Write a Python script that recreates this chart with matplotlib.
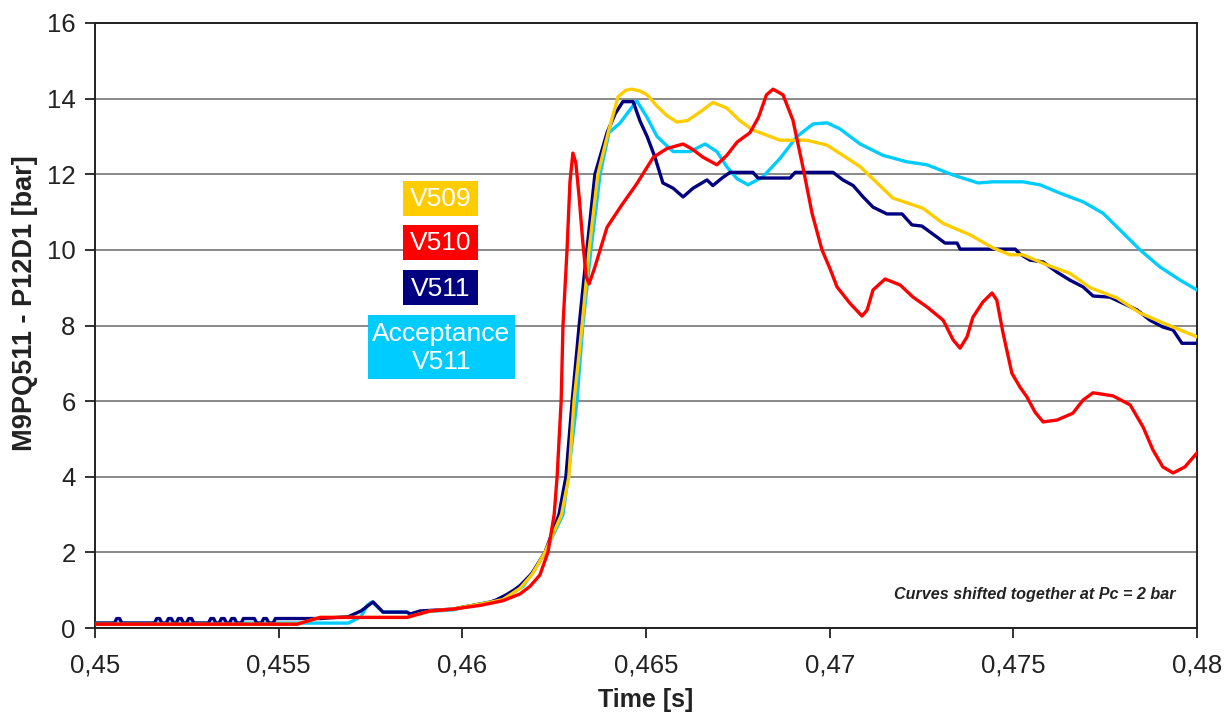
import matplotlib
matplotlib.use("Agg")
import matplotlib.pyplot as plt
from matplotlib.patches import Rectangle

# ---------------- data (time in s, pressure in bar) ----------------
v509_t = [0.45, 0.4555, 0.45613, 0.45849, 0.45912, 0.45975, 0.46, 0.46075, 0.4611,
          0.46157, 0.4619, 0.46225, 0.4627, 0.4629, 0.46304, 0.46326, 0.46345,
          0.46369, 0.46397, 0.46424, 0.46445, 0.46462, 0.46484, 0.46503, 0.4653,
          0.46557, 0.46584, 0.46613, 0.46648, 0.46682, 0.4672, 0.46755, 0.46791,
          0.46865, 0.46938, 0.46993, 0.47047, 0.47083, 0.47172, 0.47254, 0.47309,
          0.47382, 0.47445, 0.47491, 0.47526, 0.47592, 0.47654, 0.47709, 0.47782,
          0.47845, 0.47907, 0.48]
v509_v = [0.1, 0.1, 0.28, 0.28, 0.45, 0.5, 0.55, 0.68, 0.75,
          1.05, 1.42, 2.0, 3.0, 4.0, 6.0, 8.0, 10.0,
          12.0, 13.1, 14.05, 14.22, 14.25, 14.2, 14.1, 13.8,
          13.55, 13.38, 13.42, 13.65, 13.9, 13.75, 13.42, 13.17,
          12.9, 12.9, 12.77, 12.43, 12.2, 11.37, 11.1, 10.7,
          10.4, 10.05, 9.87, 9.87, 9.6, 9.38, 9.0, 8.73,
          8.33, 8.07, 7.7]

v510_t = [0.45, 0.4555, 0.45613, 0.45849, 0.45912, 0.45975, 0.4605, 0.4611, 0.46157,
          0.46184, 0.46211, 0.46233, 0.4625, 0.46258, 0.46269, 0.46274, 0.46285,
          0.46293, 0.46301, 0.46309, 0.46318, 0.46328, 0.46337, 0.46345, 0.46361,
          0.46394, 0.46435, 0.46475, 0.4652, 0.46557, 0.46601, 0.46628, 0.46655,
          0.46693, 0.4672, 0.46748, 0.46783, 0.46806, 0.46828, 0.46846, 0.46873,
          0.469, 0.46927, 0.46952, 0.46979, 0.47001, 0.4702, 0.47055, 0.47088,
          0.47102, 0.47118, 0.47151, 0.47192, 0.47227, 0.47265, 0.47309, 0.47336,
          0.47355, 0.47374, 0.4739, 0.47417, 0.47442, 0.47455, 0.47472, 0.47496,
          0.47518, 0.47537, 0.47559, 0.47581, 0.47619, 0.47662, 0.4769, 0.47717,
          0.47771, 0.47818, 0.47853, 0.4788, 0.47907, 0.47935, 0.47967, 0.48]
v510_v = [0.1, 0.1, 0.28, 0.28, 0.45, 0.5, 0.6, 0.72, 0.9,
          1.1, 1.4, 2.0, 3.0, 4.0, 6.0, 8.0, 10.0,
          11.8, 12.56, 12.3, 11.4, 10.2, 9.3, 9.1, 9.55,
          10.6, 11.2, 11.75, 12.45, 12.68, 12.8, 12.65, 12.45,
          12.25, 12.5, 12.85, 13.1, 13.5, 14.1, 14.25, 14.1,
          13.43, 12.2, 10.97, 10.0, 9.5, 9.02, 8.59, 8.25,
          8.41, 8.94, 9.23, 9.07, 8.75, 8.49, 8.14, 7.62,
          7.4, 7.7, 8.22, 8.62, 8.86, 8.67, 7.8, 6.74,
          6.37, 6.11, 5.71, 5.45, 5.5, 5.68, 6.03, 6.22,
          6.14, 5.9, 5.32, 4.71, 4.26, 4.1, 4.26, 4.63]

v511_t = [0.45, 0.45053, 0.45059, 0.45067, 0.45073,
          0.45162, 0.45168, 0.45176, 0.45182,
          0.45194, 0.452, 0.45208, 0.45214,
          0.45221, 0.45227, 0.45235, 0.45241,
          0.45249, 0.45255, 0.45263, 0.45269,
          0.45309, 0.45315, 0.45323, 0.45329,
          0.45338, 0.45344, 0.45352, 0.45358,
          0.45366, 0.45372, 0.4538, 0.45386,
          0.45398, 0.45404, 0.45434, 0.4544,
          0.45453, 0.45459, 0.45467, 0.45473,
          0.45485, 0.45491, 0.45613, 0.4569, 0.45724, 0.45757, 0.45784, 0.45849, 0.45858,
          0.45885, 0.45975, 0.46, 0.46029, 0.46075, 0.46094, 0.4612, 0.4614,
          0.46157, 0.4619, 0.46225, 0.46263, 0.46282, 0.46299, 0.46318, 0.46339,
          0.46361, 0.46394, 0.46416, 0.46437, 0.46465, 0.46484, 0.46503, 0.46524,
          0.46546, 0.46574, 0.46601, 0.46628, 0.46666, 0.46682, 0.46707, 0.46729,
          0.46791, 0.46805, 0.46892, 0.46906, 0.47009, 0.47036, 0.47064, 0.47091,
          0.47118, 0.47156, 0.47197, 0.47224, 0.47251, 0.47292, 0.47314, 0.47347,
          0.47355, 0.47505, 0.47518, 0.47545, 0.47581, 0.47619, 0.47654, 0.4769,
          0.47717, 0.47763, 0.47798, 0.47837, 0.47872, 0.47907, 0.47935, 0.47959, 0.48]
v511_v = [0.13, 0.13, 0.25, 0.25, 0.13,
          0.13, 0.25, 0.25, 0.13,
          0.13, 0.25, 0.25, 0.13,
          0.13, 0.25, 0.25, 0.13,
          0.13, 0.25, 0.25, 0.13,
          0.13, 0.25, 0.25, 0.13,
          0.13, 0.25, 0.25, 0.13,
          0.13, 0.25, 0.25, 0.13,
          0.13, 0.25, 0.25, 0.13,
          0.13, 0.25, 0.25, 0.13,
          0.13, 0.25, 0.25, 0.3, 0.45, 0.69, 0.42, 0.42, 0.37,
          0.45, 0.5, 0.55, 0.6, 0.68, 0.75, 0.88, 1.0,
          1.12, 1.45, 2.0, 3.0, 4.0, 6.0, 8.0, 10.0,
          12.0, 13.1, 13.6, 13.92, 13.92, 13.4, 13.0, 12.46,
          11.77, 11.63, 11.4, 11.63, 11.85, 11.7, 11.9, 12.05,
          12.05, 11.9, 11.9, 12.05, 12.05, 11.85, 11.7, 11.4,
          11.13, 10.95, 10.95, 10.66, 10.63, 10.34, 10.18, 10.18,
          10.02, 10.02, 9.89, 9.73, 9.68, 9.41, 9.2, 9.02,
          8.78, 8.75, 8.59, 8.41, 8.14, 7.96, 7.88, 7.53, 7.53]

acc_t = [0.45, 0.4569, 0.45724, 0.45741, 0.45754, 0.45784, 0.45849, 0.45858, 0.45885,
         0.45975, 0.46029, 0.46075, 0.4611, 0.46165, 0.4619, 0.46225, 0.46274,
         0.46288, 0.46312, 0.46328, 0.4635, 0.46375, 0.46399, 0.46429, 0.46456,
         0.46475, 0.46503, 0.4653, 0.46557, 0.46574, 0.4662, 0.46661, 0.46693,
         0.4672, 0.46748, 0.46778, 0.46818, 0.46865, 0.46911, 0.46955, 0.46993,
         0.47028, 0.47083, 0.47145, 0.4721, 0.47265, 0.47336, 0.47404, 0.47445,
         0.47526, 0.47573, 0.47627, 0.4769, 0.47744, 0.4779, 0.47845, 0.47899,
         0.47954, 0.48]
acc_v = [0.13, 0.13, 0.3, 0.6, 0.69, 0.42, 0.42, 0.37, 0.42,
         0.48, 0.6, 0.69, 0.75, 1.1, 1.45, 2.0, 3.0,
         4.0, 6.0, 8.0, 10.0, 12.0, 13.1, 13.35, 13.7,
         13.94, 13.5, 13.0, 12.75, 12.6, 12.6, 12.8, 12.6,
         12.2, 11.88, 11.72, 11.93, 12.42, 13.0, 13.33, 13.36,
         13.2, 12.8, 12.5, 12.33, 12.25, 11.98, 11.77, 11.8,
         11.8, 11.72, 11.5, 11.27, 10.97, 10.53, 10.0, 9.55,
         9.2, 8.94]

x_ticks = [0.45, 0.455, 0.46, 0.465, 0.47, 0.475, 0.48]
x_tick_labels = ["0,45", "0,455", "0,46", "0,465", "0,47", "0,475", "0,48"]
y_ticks = [0, 2, 4, 6, 8, 10, 12, 14, 16]

series_names = ["V509", "V510", "V511", "Acceptance\nV511"]
series_colors = ["#FFCC00", "#FF0000", "#000080", "#00CCFF"]

# ---------------- figure ----------------
plt.rcParams['font.family'] = ['Liberation Sans', 'DejaVu Sans']
W, H = 1227, 713
fig = plt.figure(figsize=(W / 100, H / 100), dpi=100)
ax = fig.add_axes([95 / W, 1 - 628 / H, (1197 - 95) / W, (628 - 23) / H])

ax.set_xlim(0.45, 0.48)
ax.set_ylim(0, 16)
ax.set_yticks(y_ticks)
ax.set_yticklabels([str(v) for v in y_ticks])
ax.set_xticks(x_ticks)
ax.set_xticklabels(x_tick_labels)
ax.grid(axis='y', color='#808080', linewidth=1.3, zorder=0)
ax.set_axisbelow(True)
for s in ax.spines.values():
    s.set_linewidth(1.4)
    s.set_color('#222222')
ax.tick_params(axis='both', direction='out', length=7, width=1.3, color='#222222',
               labelsize=18.5, labelcolor='#222222')
ax.tick_params(axis='x', pad=11)
ax.tick_params(axis='y', pad=7)

lw = 2.4
ax.plot(acc_t, acc_v, color=series_colors[3], lw=lw, zorder=3, solid_joinstyle='round')
ax.plot(v511_t, v511_v, color=series_colors[2], lw=lw, zorder=4, solid_joinstyle='round')
ax.plot(v509_t, v509_v, color=series_colors[0], lw=lw, zorder=5, solid_joinstyle='round')
ax.plot(v510_t, v510_v, color=series_colors[1], lw=lw, zorder=6, solid_joinstyle='round')

# label boxes (figure pixel coordinates)
boxes = [(403, 181, 478, 216), (403, 225, 478, 260), (403, 270, 478, 305), (368, 315, 515, 379)]
for (x0, y0, x1, y1), name, col in zip(boxes, series_names, series_colors):
    fig.add_artist(Rectangle((x0 / W, 1 - y1 / H), (x1 - x0) / W, (y1 - y0) / H,
                             transform=fig.transFigure, facecolor=col, edgecolor='none', zorder=10))
    fig.text((x0 + x1) / 2 / W, 1 - ((y0 + y1) / 2 + 1) / H, name, color='white',
             fontsize=19, ha='center', va='center', linespacing=1.2, zorder=11)

fig.text(1175 / W, 1 - 594 / H, "Curves shifted together at Pc = 2 bar",
         fontsize=11.6, fontweight='bold', fontstyle='italic', ha='right', va='center',
         color='#222222')

fig.text(646 / W, 1 - 700 / H, "Time [s]", fontsize=18, fontweight='bold',
         ha='center', va='center', color='#222222')
fig.text(25 / W, 1 - 303 / H, "M9PQ511 - P12D1 [bar]", fontsize=19.5, fontweight='bold',
         ha='center', va='center', rotation=90, color='#222222')

fig.savefig("out.png", dpi=100)
